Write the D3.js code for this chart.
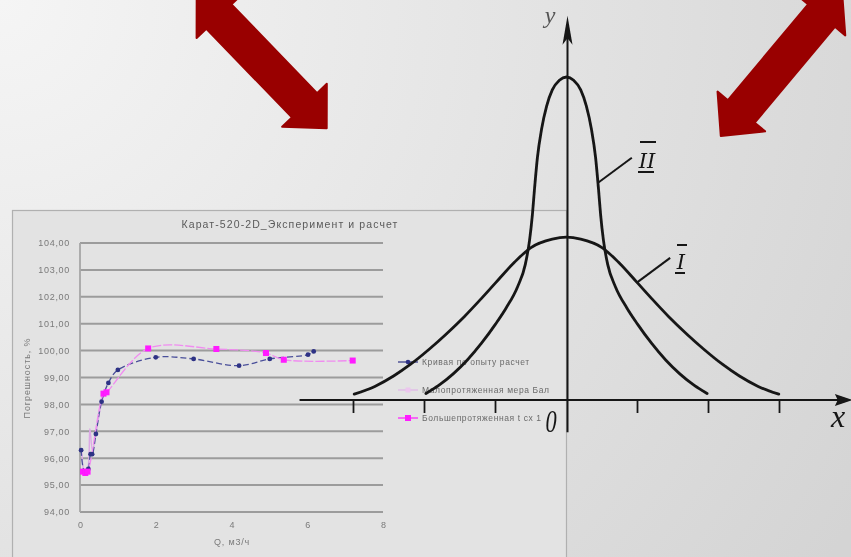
<!DOCTYPE html>
<html><head><meta charset="utf-8">
<script src="https://cdn.jsdelivr.net/npm/d3@7"></script>
<style>html,body{margin:0;padding:0;background:#e6e6e6;overflow:hidden}</style>
</head><body><svg id="c" width="851" height="557"></svg>
<script>
// ---------- Excel chart data ----------
const chartTitle = "Карат-520-2D_Эксперимент и расчет";
const yAxisTitle = "Погрешность, %";
const xAxisTitle = "Q, м3/ч";
const yTicks = [94, 95, 96, 97, 98, 99, 100, 101, 102, 103, 104];
const xTicks = [0, 2, 4, 6, 8];
const seriesNames = ["Кривая по опыту расчет", "Малопротяженная мера Бал", "Большепротяженная t сх 1"];
// series 1 (navy)
const q1 = [0.03, 0.12, 0.22, 0.28, 0.32, 0.42, 0.57, 0.75, 1.0, 2.0, 3.0, 4.2, 5.01, 6.02, 6.17];
const e1 = [96.3, 95.5, 95.6, 96.15, 96.15, 96.9, 98.1, 98.8, 99.28, 99.75, 99.69, 99.44, 99.69, 99.85, 99.97];
// series 2 (light pink)
const q2 = [0.05, 0.12, 0.2, 0.26, 0.33, 0.5, 0.62];
const e2 = [96.2, 95.5, 95.6, 97.1, 96.3, 97.6, 98.4];
// series 3 (magenta)
const q3 = [0.08, 0.14, 0.2, 0.62, 0.7, 1.8, 3.6, 4.91, 5.38, 7.2];
const e3 = [95.5, 95.45, 95.5, 98.4, 98.45, 100.08, 100.06, 99.91, 99.66, 99.63];

// ---------- Bell curves data ----------
const bellTicks = [-3, -2, -1, 1, 2, 3];
const curveIx = [-2.99,-2.7,-2.43,-2.2,-1.93,-1.7,-1.44,-1.2,-0.99,-0.74,-0.5,-0.2,0,0.2,0.5,0.74,0.99,1.2,1.44,1.7,1.93,2.2,2.43,2.7,2.99];
const curveIy = [0.018,0.042,0.075,0.11,0.158,0.203,0.258,0.314,0.365,0.425,0.472,0.498,0.504,0.498,0.472,0.425,0.365,0.314,0.258,0.203,0.158,0.11,0.075,0.042,0.018];
const curveIIx = [-1.98,-1.8,-1.6,-1.4,-1.2,-1.0,-0.85,-0.69,-0.58,-0.52,-0.48,-0.45,-0.41,-0.35,-0.28,-0.2,-0.1,0,0.1,0.2,0.28,0.35,0.41,0.45,0.48,0.52,0.58,0.69,0.85,1.0,1.2,1.4,1.6,1.8,1.98];
const curveIIy = [0.02,0.045,0.08,0.123,0.175,0.235,0.285,0.35,0.42,0.495,0.575,0.655,0.75,0.84,0.91,0.96,0.99,1,0.99,0.96,0.91,0.84,0.75,0.655,0.575,0.495,0.42,0.35,0.285,0.235,0.175,0.123,0.08,0.045,0.02];
const curveLabels = ["II", "I"];

// ---------- drawing ----------
const svg = d3.select("#c");
const defs = svg.append("defs");
const rg = defs.append("radialGradient").attr("id","bg").attr("gradientUnits","userSpaceOnUse")
  .attr("cx",0).attr("cy",0).attr("r",1000);
rg.append("stop").attr("offset",0).attr("stop-color","#f5f5f5");
rg.append("stop").attr("offset",1).attr("stop-color","#d4d4d4");
defs.append("filter").attr("id","blurE").attr("x","-5%").attr("y","-5%").attr("width","110%").attr("height","110%")
  .append("feGaussianBlur").attr("stdDeviation",0.7);
defs.append("filter").attr("id","blurB")
  .append("feGaussianBlur").attr("stdDeviation",0.45);

svg.append("rect").attr("width",851).attr("height",557).attr("fill","url(#bg)");

// ===== Excel chart =====
const FF = "Liberation Sans, Arial";
const ex = svg.append("g").attr("filter","url(#blurE)");
ex.append("rect").attr("x",12.5).attr("y",210.5).attr("width",554).attr("height",360)
  .attr("fill","#e3e3e3").attr("stroke","#b0b0b0").attr("stroke-width",1.2);
const x = d3.scaleLinear().domain([0,8]).range([80,383]);
const y = d3.scaleLinear().domain([94,104]).range([512,243]);
const fmtLoc = d3.formatLocale({decimal:",", thousands:" ", grouping:[3], currency:["",""]});
const fmt = fmtLoc.format(".2f");

ex.append("text").attr("x",290).attr("y",228).attr("text-anchor","middle")
  .attr("font-family",FF).attr("font-size",10.5).attr("letter-spacing",1.1).attr("fill","#5a5a5a").text(chartTitle);

// gridlines
ex.append("g").selectAll("line").data(yTicks).join("line")
  .attr("x1",x(0)).attr("x2",x(8)).attr("y1",d=>y(d)).attr("y2",d=>y(d))
  .attr("stroke","#9c9c9c").attr("stroke-width",2);
ex.append("line").attr("x1",x(0)).attr("x2",x(0)).attr("y1",y(104)).attr("y2",y(94))
  .attr("stroke","#a6a6a6").attr("stroke-width",1.8);

const ya = ex.append("g").attr("transform",`translate(${x(0)},0)`)
  .call(d3.axisLeft(y).tickValues(yTicks).tickFormat(fmt).tickSize(0).tickPadding(10));
ya.select(".domain").remove();
ya.selectAll("text").attr("font-family",FF).attr("font-size",9).attr("letter-spacing",0.7).attr("fill","#7a7a7a");
const xa = ex.append("g").attr("transform",`translate(0,${y(94)})`)
  .call(d3.axisBottom(x).tickValues(xTicks).tickFormat(d3.format("d")).tickSize(0).tickPadding(10));
xa.select(".domain").remove();
xa.selectAll("text").attr("font-family",FF).attr("font-size",9).attr("fill","#7a7a7a");

ex.append("text").attr("transform","translate(30,378) rotate(-90)").attr("text-anchor","middle")
  .attr("font-family",FF).attr("font-size",9).attr("letter-spacing",0.9).attr("fill","#7a7a7a").text(yAxisTitle);
ex.append("text").attr("x",232).attr("y",545).attr("text-anchor","middle")
  .attr("font-family",FF).attr("font-size",9).attr("letter-spacing",0.8).attr("fill","#7a7a7a").text(xAxisTitle);

const lineE = d3.line().x(d=>x(d[0])).y(d=>y(d[1])).curve(d3.curveCatmullRom);
const s1 = d3.zip(q1,e1), s2 = d3.zip(q2,e2), s3 = d3.zip(q3,e3);
ex.append("path").datum(s2).attr("d",lineE).attr("fill","none").attr("stroke","#dca8e6").attr("stroke-width",1.4);
ex.append("path").datum(s1).attr("d",lineE).attr("fill","none").attr("stroke","#4a4f9a").attr("stroke-width",1.3).attr("stroke-dasharray","6,3");
ex.append("path").datum(s3).attr("d",lineE).attr("fill","none").attr("stroke","#f08cf0").attr("stroke-width",1.3).attr("stroke-dasharray","9,2");
ex.append("g").selectAll("circle").data(s1).join("circle")
  .attr("cx",d=>x(d[0])).attr("cy",d=>y(d[1])).attr("r",2.4).attr("fill","#2d3185");
ex.append("g").selectAll("rect").data(s3).join("rect")
  .attr("x",d=>x(d[0])-3).attr("y",d=>y(d[1])-3).attr("width",6).attr("height",6).attr("fill","#ff1aff");

// legend
const legColors = ["#2d3185","#e0b4e8","#ff1aff"];
const leg = ex.append("g").selectAll("g").data(seriesNames).join("g")
  .attr("transform",(d,i)=>`translate(398,${362+i*28})`);
leg.append("line").attr("x1",0).attr("x2",20).attr("stroke",(d,i)=>legColors[i]).attr("stroke-width",1.2);
leg.filter((d,i)=>i===0).append("circle").attr("cx",10).attr("r",2.3).attr("fill",legColors[0]);
leg.filter((d,i)=>i===1).append("rect").attr("x",7.5).attr("y",-2.5).attr("width",5).attr("height",5).attr("fill","#ecc6ee");
leg.filter((d,i)=>i===2).append("rect").attr("x",7).attr("y",-3).attr("width",6).attr("height",6).attr("fill",legColors[2]);
leg.append("text").attr("x",24).attr("y",3).attr("font-family",FF).attr("font-size",8.5).attr("letter-spacing",0.6)
  .attr("fill","#6a6a6a").text(d=>d);

// ===== Bell curves =====
const bx = d3.scaleLinear().domain([-3,3]).range([353.5,779.5]);
const by = d3.scaleLinear().domain([0,1]).range([400,77]);
const bg = svg.append("g").attr("filter","url(#blurB)");
const ink = "#161616";
// x axis
bg.append("line").attr("x1",bx(-3.76)).attr("x2",bx(3.84)).attr("y1",by(0)).attr("y2",by(0)).attr("stroke",ink).attr("stroke-width",2);
bg.append("path").attr("d",`M${bx(4.03)},${by(0)} L${bx(3.78)},${by(0)-6} L${bx(3.82)},${by(0)} L${bx(3.78)},${by(0)+6}Z`).attr("fill",ink);
bg.append("g").selectAll("line").data(bellTicks).join("line")
  .attr("x1",d=>bx(d)).attr("x2",d=>bx(d)).attr("y1",by(0)-1).attr("y2",by(0)+13).attr("stroke",ink).attr("stroke-width",1.8);
// y axis
bg.append("line").attr("x1",bx(0)+1).attr("x2",bx(0)+1).attr("y1",by(-0.1)).attr("y2",by(1.14)).attr("stroke",ink).attr("stroke-width",2);
bg.append("path").attr("d",`M${bx(0)+1},${by(1.19)} L${bx(0)-4},${by(1.1)} L${bx(0)+1},${by(1.12)} L${bx(0)+6},${by(1.1)}Z`).attr("fill",ink);

const lineB = d3.line().x(d=>bx(d[0])).y(d=>by(d[1])).curve(d3.curveMonotoneX);
bg.append("path").datum(d3.zip(curveIx,curveIy)).attr("d",lineB).attr("fill","none").attr("stroke",ink).attr("stroke-width",2.8).attr("stroke-linecap","round");
bg.append("path").datum(d3.zip(curveIIx,curveIIy)).attr("d",lineB).attr("fill","none").attr("stroke",ink).attr("stroke-width",2.8).attr("stroke-linecap","round");

// leader lines & labels
const lab = [
  {t:curveLabels[0], x0:0.44, y0:0.672, x1:0.92, y1:0.75, cx:647, top:142, bot:172},
  {t:curveLabels[1], x0:1.0, y0:0.365, x1:1.46, y1:0.44, cx:681, top:245, bot:273}
];
lab.forEach(l=>{
  bg.append("line").attr("x1",bx(l.x0)).attr("y1",by(l.y0)).attr("x2",bx(l.x1)).attr("y2",by(l.y1)).attr("stroke",ink).attr("stroke-width",2);
  bg.append("text").attr("x",l.cx).attr("y",l.bot-4).attr("text-anchor","middle")
    .attr("font-family","DejaVu Serif").attr("font-style","italic").attr("font-size",21).attr("fill",ink).text(l.t);
  const w = l.t.length*6+4;
  bg.append("line").attr("x1",l.cx-w/2+1).attr("x2",l.cx+w/2+1).attr("y1",l.top).attr("y2",l.top).attr("stroke",ink).attr("stroke-width",2);
  bg.append("line").attr("x1",l.cx-w/2-1).attr("x2",l.cx+w/2-1).attr("y1",l.bot).attr("y2",l.bot).attr("stroke",ink).attr("stroke-width",2);
});
bg.append("text").attr("transform",`translate(551,432) scale(0.7,1)`).attr("text-anchor","middle")
  .attr("font-family","Liberation Serif").attr("font-style","italic").attr("font-size",32).attr("fill",ink).text("0");
bg.append("text").attr("x",838).attr("y",427).attr("text-anchor","middle")
  .attr("font-family","Liberation Serif").attr("font-style","italic").attr("font-size",32).attr("fill",ink).text("x");
bg.append("text").attr("x",550).attr("y",23).attr("text-anchor","middle")
  .attr("font-family","Liberation Serif").attr("font-style","italic").attr("font-size",24).attr("fill","#555").text("y");

// ===== Red double arrows =====
function dblArrow(p0, p1){
  const dx=p1[0]-p0[0], dy=p1[1]-p0[1], L=Math.hypot(dx,dy);
  const u=[dx/L,dy/L], n=[-u[1],u[0]];
  const hl=32, hw=31, sw=17.5;
  const P=(p,a,b)=>[p[0]+u[0]*a+n[0]*b, p[1]+u[1]*a+n[1]*b];
  return [P(p0,0,0),P(p0,hl,hw),P(p0,hl,sw),P(p1,-hl,sw),P(p1,-hl,hw),P(p1,0,0),
          P(p1,-hl,-hw),P(p1,-hl,-sw),P(p0,hl,-sw),P(p0,hl,-hw)];
}
const arrows = [[[196.7,-6.5],[326.7,128.3]], [[720.8,136],[842,-9]]];
svg.append("g").selectAll("polygon").data(arrows).join("polygon")
  .attr("points",d=>dblArrow(d[0],d[1]).map(p=>p.join(",")).join(" "))
  .attr("fill","#990000").attr("stroke","#990000").attr("stroke-width",2).attr("stroke-linejoin","round");
</script></body></html>
